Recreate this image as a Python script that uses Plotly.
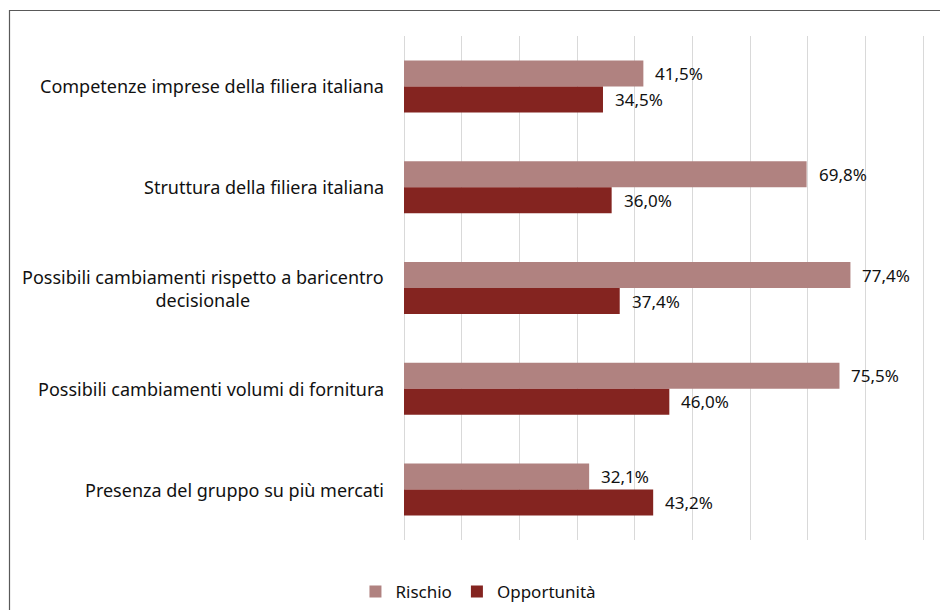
import plotly.graph_objects as go

categories = [
    "Competenze imprese della filiera italiana",
    "Struttura della filiera italiana",
    "Possibili cambiamenti rispetto a baricentro<br>decisionale",
    "Possibili cambiamenti volumi di fornitura",
    "Presenza del gruppo su più mercati",
]
rischio = [41.5, 69.8, 77.4, 75.5, 32.1]
opportunita = [34.5, 36.0, 37.4, 46.0, 43.2]
series_names = ["Rischio", "Opportunità"]
colors = ["#b08280", "#842420"]

FONT = "Noto Sans"
TXT = "#111111"
SIZE = 18


def fmt(v):
    return f"{v:.1f}".replace(".", ",") + "%"


fig = go.Figure()
for name, vals, col in zip(series_names, [rischio, opportunita], colors):
    fig.add_trace(go.Bar(
        y=categories, x=vals, name=name, orientation="h",
        marker=dict(color=col, line=dict(width=0)),
    ))

# value labels beside each bar end
annotations = []
for k, vals in enumerate([rischio, opportunita]):
    for cat, v in zip(categories, vals):
        annotations.append(dict(
            x=v, y=cat, xref="x", yref="y", text=fmt(v), showarrow=False,
            xanchor="left", xshift=10, yshift=(13 if k == 0 else -13),
            font=dict(family=FONT, size=SIZE - 1, color=TXT),
        ))

# category labels, centred line by line
for cat in categories:
    annotations.append(dict(
        x=0, y=cat, xref="paper", yref="y", text=cat, showarrow=False,
        xanchor="right", xshift=-18, align="center",
        font=dict(family=FONT, size=SIZE, color=TXT),
    ))

fig.update_layout(
    width=940, height=610,
    margin=dict(l=404, r=14, t=36, b=70),
    paper_bgcolor="white", plot_bgcolor="white",
    barmode="group", bargap=0.484, bargroupgap=0,
    font=dict(family=FONT, size=SIZE, color=TXT),
    xaxis=dict(range=[0, 90.5], tick0=0, dtick=10, showticklabels=False,
               showgrid=True, gridcolor="#d9d9d9", gridwidth=1,
               zeroline=True, zerolinecolor="#d9d9d9", zerolinewidth=1,
               showline=False, fixedrange=True),
    yaxis=dict(autorange="reversed", showticklabels=False, showgrid=False,
               showline=False, zeroline=False, fixedrange=True),
    legend=dict(orientation="h", x=0.509, xanchor="center", xref="container",
                y=28, yref="container", yanchor="middle",
                font=dict(family=FONT, size=SIZE - 1, color=TXT),
                itemsizing="constant", traceorder="normal",
                itemwidth=30),
    annotations=annotations,
    shapes=[dict(type="rect", xref="paper", yref="paper",
                 x0=(9.5 - 404) / 522, x1=1.2,
                 y0=-0.3, y1=(540 - 10.5) / 504,
                 line=dict(color="#595959", width=1.2), layer="below")],
    showlegend=True,
)

fig.write_html("out.html")
